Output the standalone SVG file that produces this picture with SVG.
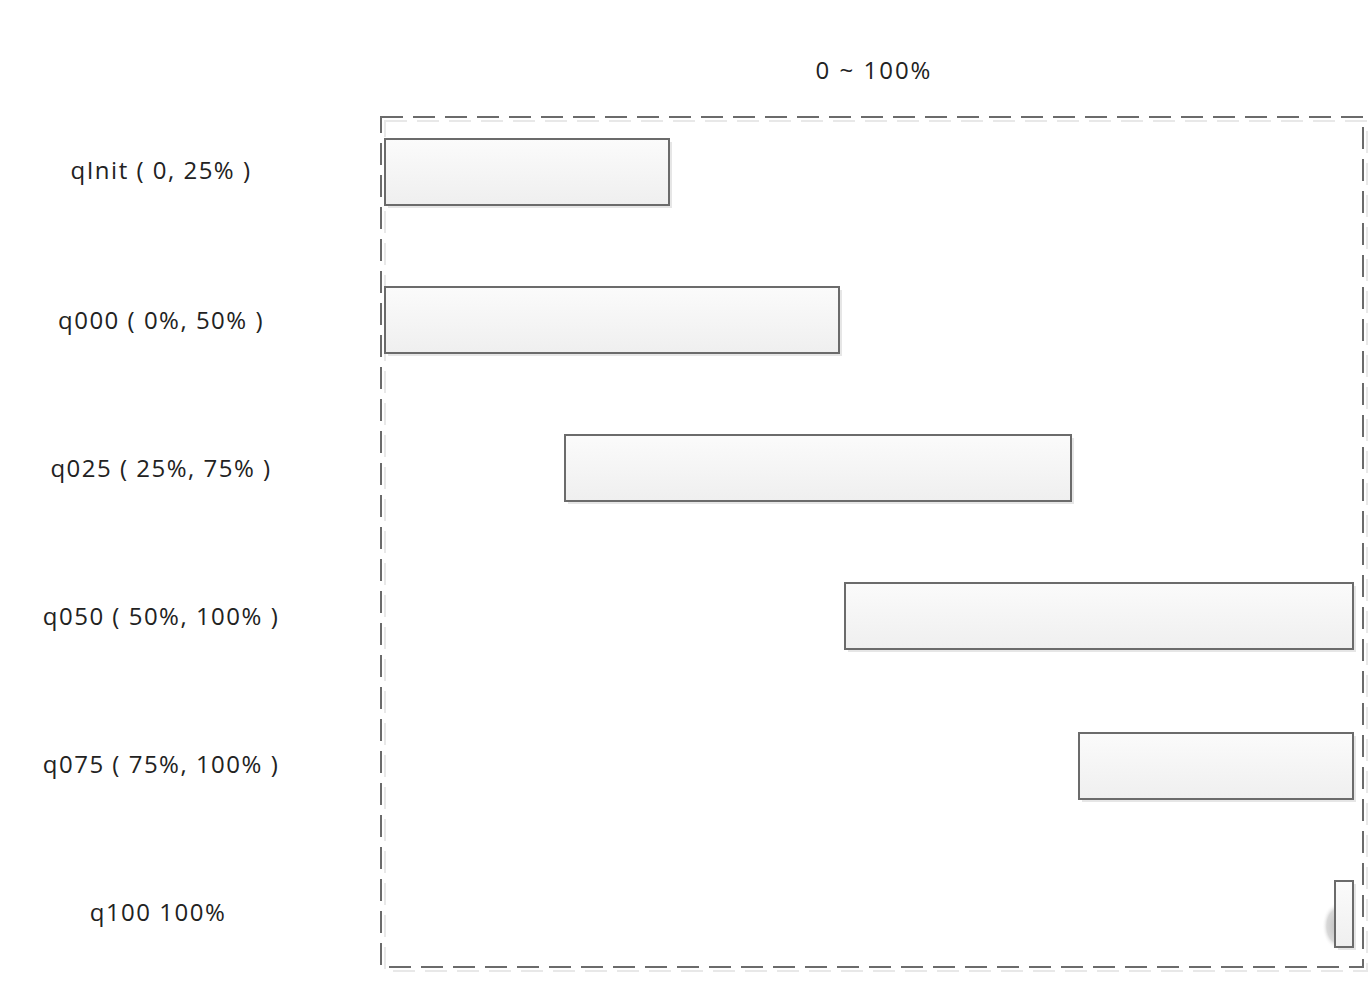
<svg xmlns="http://www.w3.org/2000/svg" width="1370" height="982" viewBox="0 0 1370 982">
<style>
.lbl{font-family:"Open Sans","Liberation Sans",sans-serif;font-size:24px;fill:#222;text-anchor:middle;letter-spacing:1.5px}
.bar{fill:url(#g);stroke:#6b6b6b;stroke-width:2}
.sh{fill:#e6e6e6}
.frame{fill:none;stroke:#6b6b6b;stroke-width:2;stroke-dasharray:22 10}
.frsh{fill:none;stroke:#e8e8e8;stroke-width:2;stroke-dasharray:22 10}
</style>
<defs>
<linearGradient id="g" x1="0" y1="0" x2="0" y2="1"><stop offset="0" stop-color="#fbfbfb"/><stop offset="1" stop-color="#efefef"/></linearGradient>
<radialGradient id="curl" cx="0.5" cy="0.5" r="0.5"><stop offset="0" stop-color="#bdbdbd"/><stop offset="0.7" stop-color="#d8d8d8"/><stop offset="1" stop-color="#ffffff" stop-opacity="0"/></radialGradient>
</defs>
<rect width="1370" height="982" fill="#fff"/>
<g id="title"><text class="lbl" x="874" y="79" style="letter-spacing:2px">0 ~ 100%</text></g>
<g id="frame">
<rect class="frsh" x="385" y="121" width="982" height="850"/>
<rect class="frame" x="381" y="117" width="982" height="850"/>
<ellipse cx="1338" cy="926" rx="16" ry="24" fill="url(#curl)"/>
</g>
<g id="qinit"><text class="lbl" x="161" y="179">qInit ( 0, 25% )</text><rect class="sh" x="388" y="142" width="284" height="66"/><rect class="bar" x="385" y="139" width="284" height="66"/></g>
<g id="q000"><text class="lbl" x="161" y="329">q000 ( 0%, 50% )</text><rect class="sh" x="388" y="290" width="454" height="66"/><rect class="bar" x="385" y="287" width="454" height="66"/></g>
<g id="q025"><text class="lbl" x="161" y="477">q025 ( 25%, 75% )</text><rect class="sh" x="568" y="438" width="506" height="66"/><rect class="bar" x="565" y="435" width="506" height="66"/></g>
<g id="q050"><text class="lbl" x="161" y="625">q050 ( 50%, 100% )</text><rect class="sh" x="848" y="586" width="508" height="66"/><rect class="bar" x="845" y="583" width="508" height="66"/></g>
<g id="q075"><text class="lbl" x="161" y="773">q075 ( 75%, 100% )</text><rect class="sh" x="1082" y="736" width="274" height="66"/><rect class="bar" x="1079" y="733" width="274" height="66"/></g>
<g id="q100"><text class="lbl" x="158" y="921">q100 100%</text><rect class="sh" x="1338" y="884" width="18" height="66"/><rect class="bar" x="1335" y="881" width="18" height="66"/></g>
<g id="connectors"></g>
</svg>
